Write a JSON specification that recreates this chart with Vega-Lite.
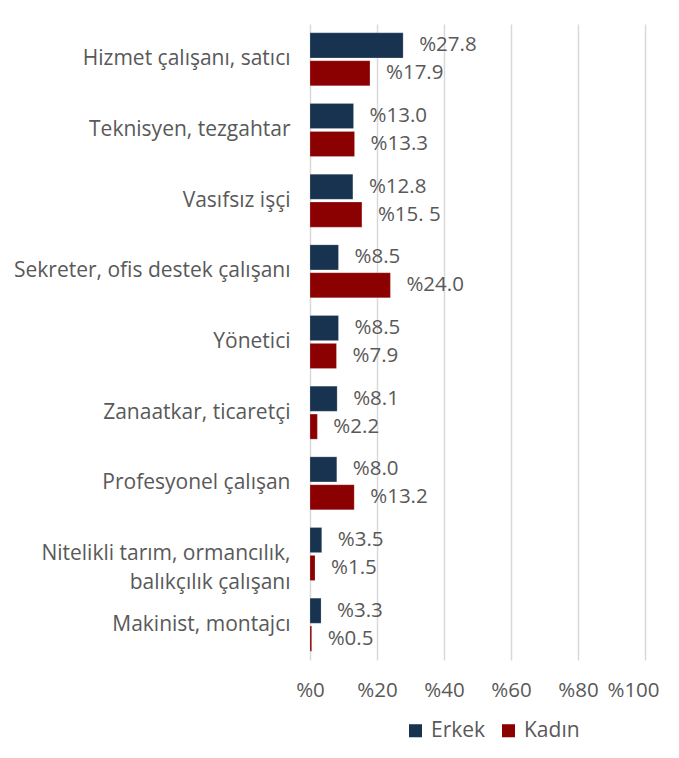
{
  "$schema": "https://vega.github.io/schema/vega-lite/v6.json",
  "width": 335,
  "height": 636,
  "autosize": {"type": "none"},
  "padding": {"left": 310, "top": 24, "right": 34, "bottom": 98},
  "background": "white",
  "data": {
    "values": [
      {"cat": "Hizmet çalışanı, satıcı", "sex": "Erkek", "value": 27.8, "label": "%27.8"},
      {"cat": "Hizmet çalışanı, satıcı", "sex": "Kadın", "value": 17.9, "label": "%17.9"},
      {"cat": "Teknisyen, tezgahtar", "sex": "Erkek", "value": 13.0, "label": "%13.0"},
      {"cat": "Teknisyen, tezgahtar", "sex": "Kadın", "value": 13.3, "label": "%13.3"},
      {"cat": "Vasıfsız işçi", "sex": "Erkek", "value": 12.8, "label": "%12.8"},
      {"cat": "Vasıfsız işçi", "sex": "Kadın", "value": 15.5, "label": "%15. 5"},
      {"cat": "Sekreter, ofis destek çalışanı", "sex": "Erkek", "value": 8.5, "label": "%8.5"},
      {"cat": "Sekreter, ofis destek çalışanı", "sex": "Kadın", "value": 24.0, "label": "%24.0"},
      {"cat": "Yönetici", "sex": "Erkek", "value": 8.5, "label": "%8.5"},
      {"cat": "Yönetici", "sex": "Kadın", "value": 7.9, "label": "%7.9"},
      {"cat": "Zanaatkar, ticaretçi", "sex": "Erkek", "value": 8.1, "label": "%8.1"},
      {"cat": "Zanaatkar, ticaretçi", "sex": "Kadın", "value": 2.2, "label": "%2.2"},
      {"cat": "Profesyonel çalışan", "sex": "Erkek", "value": 8.0, "label": "%8.0"},
      {"cat": "Profesyonel çalışan", "sex": "Kadın", "value": 13.2, "label": "%13.2"},
      {"cat": "Nitelikli tarım, ormancılık, balıkçılık çalışanı", "sex": "Erkek", "value": 3.5, "label": "%3.5"},
      {"cat": "Nitelikli tarım, ormancılık, balıkçılık çalışanı", "sex": "Kadın", "value": 1.5, "label": "%1.5"},
      {"cat": "Makinist, montajcı", "sex": "Erkek", "value": 3.3, "label": "%3.3"},
      {"cat": "Makinist, montajcı", "sex": "Kadın", "value": 0.5, "label": "%0.5"}
    ]
  },
  "encoding": {
    "y": {
      "field": "cat",
      "type": "nominal",
      "sort": null,
      "scale": {"paddingInner": 0.25, "paddingOuter": 0.125},
      "axis": {
        "title": null,
        "domain": false,
        "ticks": false,
        "labelPadding": 20,
        "labelFont": "Open Sans",
        "labelFontSize": 21,
        "labelColor": "#595959",
        "labelLimit": 320,
        "labelLineHeight": 29,
        "labelExpr": "datum.label == 'Nitelikli tarım, ormancılık, balıkçılık çalışanı' ? ['Nitelikli tarım, ormancılık,', 'balıkçılık çalışanı'] : datum.label"
      }
    },
    "yOffset": {
      "field": "sex",
      "type": "nominal",
      "sort": ["Erkek", "Kadın"],
      "scale": {"paddingInner": 0.1}
    },
    "x": {
      "field": "value",
      "type": "quantitative",
      "scale": {"domain": [0, 100], "nice": false},
      "axis": {
        "title": null,
        "values": [0, 20, 40, 60, 80, 100],
        "labelExpr": "'%' + datum.value",
        "labelOverlap": false,
        "labelBound": false,
        "labelFlush": false,
        "labelOffset": {"condition": {"test": "datum.value == 100", "value": -12}, "value": 0},
        "domain": false,
        "ticks": false,
        "grid": true,
        "gridColor": "#d9d9d9",
        "gridWidth": 1.5,
        "labelPadding": 20,
        "labelFont": "Open Sans",
        "labelFontSize": 20.5,
        "labelColor": "#595959"
      }
    }
  },
  "layer": [
    {
      "mark": {"type": "bar", "stroke": "#ffffff", "strokeOpacity": 0.4, "strokeWidth": 0.5},
      "encoding": {
        "color": {
          "field": "sex",
          "type": "nominal",
          "sort": ["Erkek", "Kadın"],
          "scale": {"domain": ["Erkek", "Kadın"], "range": ["#18334f", "#8b0000"]},
          "legend": {
            "title": null,
            "orient": "none",
            "legendX": 95,
            "legendY": 696,
            "direction": "horizontal",
            "symbolType": "square",
            "symbolSize": 170,
            "symbolStrokeWidth": 0,
            "labelFont": "Open Sans",
            "labelFontSize": 21,
            "labelColor": "#595959",
            "columnPadding": 12,
            "labelOffset": 5
          }
        }
      }
    },
    {
      "mark": {"type": "text", "align": "left", "baseline": "middle", "dx": 16, "font": "Open Sans", "fontSize": 20.5, "color": "#595959"},
      "encoding": {"text": {"field": "label"}}
    }
  ],
  "config": {"view": {"stroke": null}}
}
